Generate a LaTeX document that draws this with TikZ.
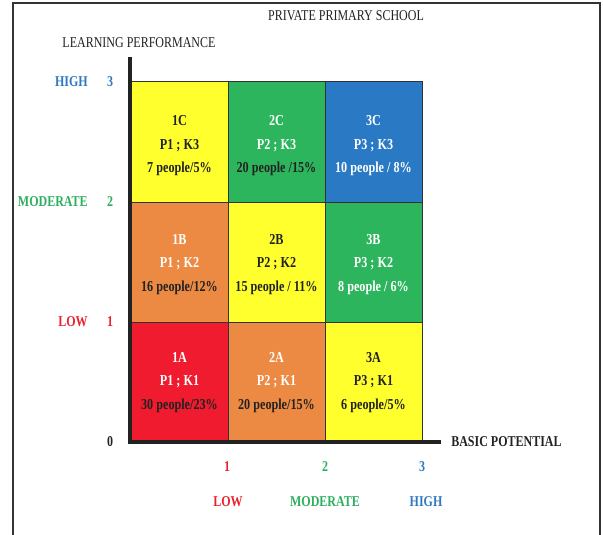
\documentclass[tikz,border=0pt]{standalone}
\usepackage{fontspec}
\setmainfont[FakeStretch=0.8]{Liberation Serif}
\definecolor{cyellow}{HTML}{FFFF2E}
\definecolor{cgreen}{HTML}{2CB55C}
\definecolor{cblue}{HTML}{2A79C5}
\definecolor{corange}{HTML}{EC8A43}
\definecolor{cred}{HTML}{F01B2E}
\definecolor{lred}{HTML}{E8232F}
\definecolor{lgreen}{HTML}{2DAE5E}
\definecolor{lblue}{HTML}{2E78BE}
\definecolor{ink}{HTML}{222222}
\definecolor{cellline}{HTML}{333333}
\begin{document}
\begin{tikzpicture}[x=0.75pt,y=-0.75pt,
  cellbox/.style={draw=cellline, line width=0.75pt, minimum width=72.75pt, minimum height=90pt,
    inner sep=0pt},
  celltext/.style={inner sep=0pt, align=center, text=ink,
    font=\fontsize{11.4}{17.6}\selectfont\bfseries},
  lab/.style={inner sep=0pt, font=\fontsize{11.25}{13}\selectfont\bfseries},
  title/.style={inner sep=0pt, font=\fontsize{11.25}{13}\selectfont, text=ink},
  axisline/.style={line width=2.3pt, draw=ink},
  framel/.style={line width=1.2pt, draw=cellline}]
\useasboundingbox (0,0) rectangle (603,535);
% frame
\coordinate (fbl) at (13,540);
\coordinate (ftl) at (13,3);
\coordinate (ftr) at (600,3);
\coordinate (fbr) at (600,540);
\draw[framel] (fbl) -- (ftl) -- (ftr) -- (fbr);
% cells
\node[cellbox, fill=cyellow] (c1C) at (179.5,142) {};
\node[cellbox, fill=cgreen] (c2C) at (276.5,142) {};
\node[cellbox, fill=cblue] (c3C) at (373.5,142) {};
\node[cellbox, fill=corange] (c1B) at (179.5,262) {};
\node[cellbox, fill=cyellow] (c2B) at (276.5,262) {};
\node[cellbox, fill=cgreen] (c3B) at (373.5,262) {};
\node[cellbox, fill=cred, minimum height=89.25pt] (c1A) at (179.5,381.5) {};
\node[cellbox, fill=corange, minimum height=89.25pt] (c2A) at (276.5,381.5) {};
\node[cellbox, fill=cyellow, minimum height=89.25pt] (c3A) at (373.5,381.5) {};
% cell texts
\node[celltext] (t1C) at (179.5,146) {1C\\P1 ; K3\\7 people/5\%};
\node[celltext] (t2C) at (276.5,146) {\textcolor{white}{2C}\\\textcolor{white}{P2 ; K3}\\20 people /15\%};
\node[celltext, text=white] (t3C) at (373.5,146) {3C\\P3 ; K3\\10 people / 8\%};
\node[celltext] (t1B) at (179.5,264.5) {\textcolor{white}{1B}\\\textcolor{white}{P1 ; K2}\\16 people/12\%};
\node[celltext] (t2B) at (276.5,264.5) {2B\\P2 ; K2\\15 people / 11\%};
\node[celltext, text=white] (t3B) at (373.5,264.5) {3B\\P3 ; K2\\8 people / 6\%};
\node[celltext] (t1A) at (179.5,382.5) {\textcolor{white}{1A}\\\textcolor{white}{P1 ; K1}\\30 people/23\%};
\node[celltext] (t2A) at (276.5,382.5) {\textcolor{white}{2A}\\\textcolor{white}{P2 ; K1}\\20 people/15\%};
\node[celltext] (t3A) at (373.5,382.5) {3A\\P3 ; K1\\6 people/5\%};
% axes
\coordinate (ytop) at (130,57);
\coordinate (O) at (130,442);
\coordinate (xend) at (441,442);
\draw[axisline] (ytop) -- (O) -- (xend);
% titles
\node[title] (tschool) at (346,16) {PRIVATE PRIMARY SCHOOL};
\node[title] (tlearn) at (139,43) {LEARNING PERFORMANCE};
\node[lab, text=ink, anchor=west] (tbasic) at (451,442) {BASIC POTENTIAL};
% y labels
\node[lab, text=lblue] (y3) at (110,82) {3};
\node[lab, text=lgreen] (y2) at (110,202) {2};
\node[lab, text=lred] (y1) at (110,322) {1};
\node[lab, text=ink] (y0) at (110,442) {0};
\node[lab, text=lblue, anchor=east] (yhigh) at (88,82) {HIGH};
\node[lab, text=lgreen, anchor=east] (ymod) at (88,202) {MODERATE};
\node[lab, text=lred, anchor=east] (ylow) at (88,322) {LOW};
% x labels
\node[lab, text=lred] (x1) at (227,467) {1};
\node[lab, text=lgreen] (x2) at (325,467) {2};
\node[lab, text=lblue] (x3) at (422,467) {3};
\node[lab, text=lred] (xlow) at (228,502) {LOW};
\node[lab, text=lgreen] (xmod) at (325,502) {MODERATE};
\node[lab, text=lblue] (xhigh) at (426,502) {HIGH};
\end{tikzpicture}
\end{document}
